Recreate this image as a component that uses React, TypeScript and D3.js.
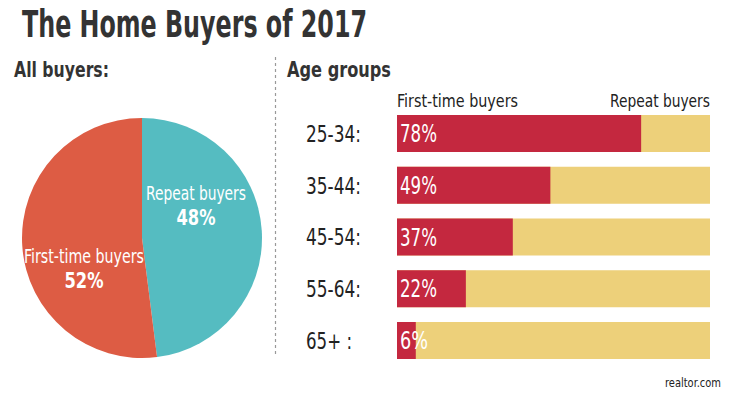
import { useEffect, useRef } from 'react';
import * as d3 from 'd3';

const pieLabels = ["Repeat buyers", "First-time buyers"];
const pieValues = [48, 52];
const pieColors = ["#55bcc1", "#dd5c44"];

const ageGroups = ["25-34:", "35-44:", "45-54:", "55-64:", "65+ :"];
const firstTimeShare = [78, 49, 37, 22, 6];

const FONT = "'Liberation Sans Narrow', 'DejaVu Sans Condensed', 'Open Sans', sans-serif";

export default function App() {
  const ref = useRef<SVGSVGElement | null>(null);
  const width = 734;
  const height = 397;

  useEffect(() => {
    if (!ref.current) return;
    const svg = d3.select(ref.current);
    svg.selectAll("*").remove();

    svg.append("rect").attr("width", width).attr("height", height).attr("fill", "#fff");

    // title
    svg.append("text")
      .attr("x", 22).attr("y", 37)
      .attr("font-family", FONT).attr("font-weight", "bold")
      .attr("font-size", 37).attr("fill", "#333")
      .attr("textLength", 345).attr("lengthAdjust", "spacingAndGlyphs")
      .text("The Home Buyers of 2017");

    svg.append("text")
      .attr("x", 14).attr("y", 77)
      .attr("font-family", FONT).attr("font-weight", "bold")
      .attr("font-size", 22).attr("fill", "#333")
      .attr("textLength", 95).attr("lengthAdjust", "spacingAndGlyphs")
      .text("All buyers:");

    svg.append("text")
      .attr("x", 287).attr("y", 77)
      .attr("font-family", FONT).attr("font-weight", "bold")
      .attr("font-size", 22).attr("fill", "#333")
      .attr("textLength", 104).attr("lengthAdjust", "spacingAndGlyphs")
      .text("Age groups");

    // divider
    svg.append("line")
      .attr("x1", 275.5).attr("x2", 275.5)
      .attr("y1", 57).attr("y2", 357)
      .attr("stroke", "#999").attr("stroke-width", 1.2)
      .attr("stroke-dasharray", "3,3");

    // pie
    const cx = 142, cy = 238, r = 120;
    const pie = d3.pie<number>().sort(null).value(d => d);
    const arc = d3.arc<d3.PieArcDatum<number>>().innerRadius(0).outerRadius(r);
    const g = svg.append("g").attr("transform", `translate(${cx},${cy})`);
    g.selectAll("path")
      .data(pie(pieValues))
      .enter()
      .append("path")
      .attr("d", arc)
      .attr("fill", (_, i) => pieColors[i]);

    const labelPos = [
      { x: 196, y: 200, w: 100 },
      { x: 84, y: 263, w: 120 },
    ];
    pieLabels.forEach((lab, i) => {
      svg.append("text")
        .attr("x", labelPos[i].x).attr("y", labelPos[i].y)
        .attr("text-anchor", "middle")
        .attr("font-family", FONT).attr("font-size", 20).attr("fill", "#fff")
        .attr("textLength", labelPos[i].w).attr("lengthAdjust", "spacingAndGlyphs")
        .text(lab);
      svg.append("text")
        .attr("x", labelPos[i].x).attr("y", labelPos[i].y + 25)
        .attr("text-anchor", "middle")
        .attr("font-family", FONT).attr("font-weight", "bold")
        .attr("font-size", 22).attr("fill", "#fff")
        .attr("textLength", 39).attr("lengthAdjust", "spacingAndGlyphs")
        .text(`${pieValues[i]}%`);
    });

    // bars
    const x = d3.scaleLinear().domain([0, 100]).range([397, 710]);
    const y = d3.scaleBand().domain(ageGroups).range([115, 359]).paddingInner(0.285).paddingOuter(0);

    svg.append("text")
      .attr("x", x(0)).attr("y", 107)
      .attr("font-family", FONT).attr("font-size", 18).attr("fill", "#222")
      .attr("textLength", 121).attr("lengthAdjust", "spacingAndGlyphs")
      .text("First-time buyers");
    svg.append("text")
      .attr("x", x(100)).attr("y", 107)
      .attr("text-anchor", "end")
      .attr("font-family", FONT).attr("font-size", 18).attr("fill", "#222")
      .attr("textLength", 100).attr("lengthAdjust", "spacingAndGlyphs")
      .text("Repeat buyers");

    const rows = svg.selectAll("g.row")
      .data(ageGroups)
      .enter()
      .append("g")
      .attr("class", "row");

    rows.append("rect")
      .attr("x", x(0)).attr("y", d => y(d)!)
      .attr("width", x(100) - x(0)).attr("height", y.bandwidth())
      .attr("fill", "#edd07a");

    rows.append("rect")
      .attr("x", x(0)).attr("y", d => y(d)!)
      .attr("width", (_, i) => x(firstTimeShare[i]) - x(0)).attr("height", y.bandwidth())
      .attr("fill", "#c4283f");

    rows.append("text")
      .attr("x", 306).attr("y", d => y(d)! + y.bandwidth() / 2)
      .attr("dy", "0.36em")
      .attr("font-family", FONT).attr("font-size", 23).attr("fill", "#222")
      .attr("textLength", d => d === "65+ :" ? 46 : 55).attr("lengthAdjust", "spacingAndGlyphs")
      .text(d => d);

    rows.append("text")
      .attr("x", x(0) + 3).attr("y", d => y(d)! + y.bandwidth() / 2)
      .attr("dy", "0.36em")
      .attr("font-family", FONT).attr("font-size", 24).attr("fill", "#fff")
      .attr("textLength", (_, i) => firstTimeShare[i] < 10 ? 28 : 37).attr("lengthAdjust", "spacingAndGlyphs")
      .text((_, i) => `${firstTimeShare[i]}%`);

    svg.append("text")
      .attr("x", 721).attr("y", 387)
      .attr("text-anchor", "end")
      .attr("font-family", FONT).attr("font-size", 13).attr("fill", "#222")
      .attr("textLength", 56).attr("lengthAdjust", "spacingAndGlyphs")
      .text("realtor.com");
  }, []);

  return (
    <svg ref={ref} width={width} height={height}
      style={{ position: 'absolute', left: 0, top: 0 }} />
  );
}
